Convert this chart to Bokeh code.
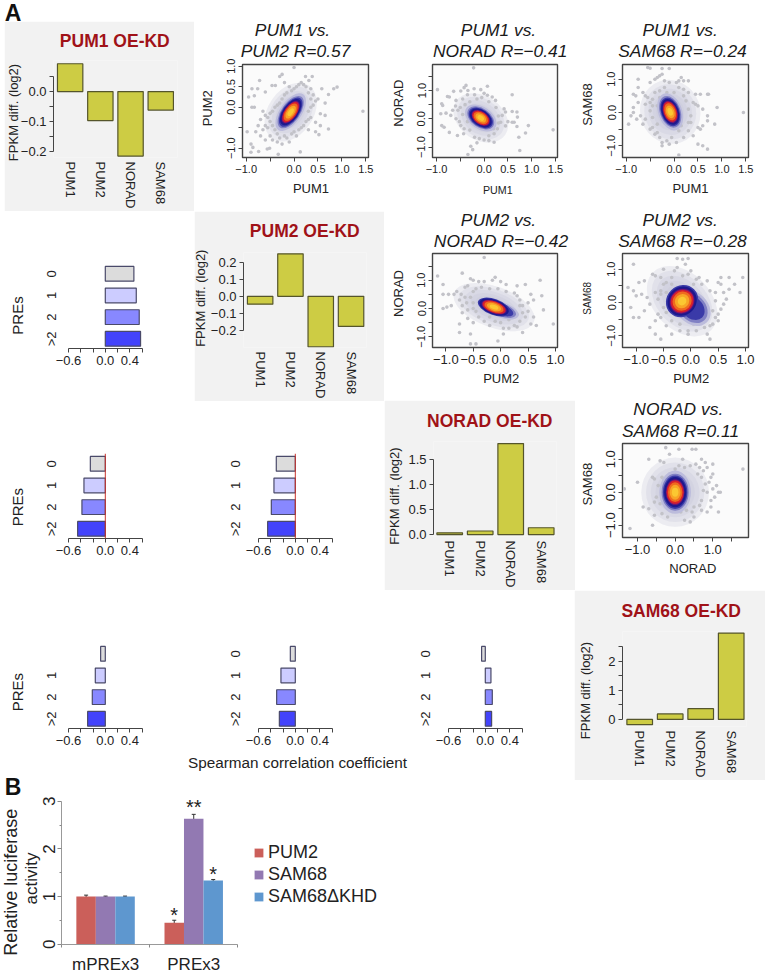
import math
from bokeh.plotting import figure
from bokeh.models import Range1d, FixedTicker, Span, Whisker, ColumnDataSource, Legend, LegendItem
from bokeh.core.properties import value
from bokeh.embed import file_html
from bokeh.resources import INLINE

FONT = "Liberation Sans"
GENES = ["PUM1", "PUM2", "NORAD", "SAM68"]
PRES = ["0", "1", "2", ">2"]

# FPKM differences
FPKM_PUM1 = [0.093, -0.097, -0.216, -0.062]
FPKM_PUM2 = [-0.046, 0.249, -0.296, -0.176]
FPKM_NORAD = [0.035, 0.07, 1.81, 0.135]
FPKM_SAM68 = [-0.18, 0.19, 0.37, 2.97]

# Spearman coefficients by PRE count
PRE_R1C0 = [0.466, 0.505, 0.553, 0.575]
PRE_R2C0 = [-0.244, -0.348, -0.381, -0.451]
PRE_R2C1 = [-0.31, -0.348, -0.391, -0.451]
PRE_R3C0 = [-0.076, -0.163, -0.212, -0.288]
PRE_R3C1 = [-0.081, -0.234, -0.304, -0.26]
PRE_R3C2 = [-0.06, 0.092, 0.114, 0.103]
PRE_COLORS = ["#dcdcdc", "#ccccff", "#8888ff", "#4343fb"]

# Luciferase
GROUPS = ["mPREx3", "PREx3"]
LUC_PUM2 = [1.0, 0.453]
LUC_SAM68 = [1.0, 2.635]
LUC_KHD = [1.0, 1.338]
ERR_PUM2 = [0.03, 0.05]
ERR_SAM68 = [0.01, 0.09]
ERR_KHD = [0.01, 0.02]
STAR_TEXT = ["*", "**", "*"]
STAR_Y = [0.75, 3.03, 1.61]

# Outlying points
S1 = [(1.44,-.1),(.9,.49),(.83,.45),(.72,.31),(.58,.45),(.38,.75),(.31,.65),(.24,.75),(0,.97),(-.25,.8),(-.3,.75),(-.72,.65),(-.88,.45),(-.76,.45),(-.95,.25),(-.83,.28),(-.6,.37),(-.46,.53),(-.39,.53),(-.88,0),(-.83,0),(-.98,-.6),(-.9,-.9),(-.86,-.98),(-.74,-1.08),(-.9,-1.1),(-.56,-1.02),(-.51,-1.0),(-.33,-1.15),(.13,-1.09),(.52,-.67),(.72,-.53),(.45,-.37),(.65,-.2),(.55,-.16),(-.5,-.35),(-.45,-.45),(-.4,-.55),(-.35,-.65),(-.55,-.5),(-.6,-.45),(-.65,-.55),(-.5,-.7),(-.45,-.8),(-.35,-.85),(-.3,-.75),(-.25,-.9),(-.2,-.7),(-.15,-.75),(-.1,-.85),(-.05,-.65),(0,-.6),(.05,-.7),(.1,-.55),(.15,-.5),(.2,-.45),(.25,-.35),(.3,-.3),(.35,-.25),(.3,-.1),(.35,0),(.4,.05),(.45,.15),(.5,.2),(.35,.2),(.4,.3),(.3,.35),(.35,.45),(.25,.5),(.2,.55),(.15,.6),(.1,.55),(.05,.5),(0,.45),(-.05,.4),(-.1,.5),(-.15,.35),(-.2,.3),(-.25,.2),(-.3,.1),(-.35,.05),(-.4,0),(-.45,-.1),(-.5,-.15),(-.55,-.25),(-.6,-.2),(-.7,-.3),(-.65,-.1),(-.75,-.45),(-.3,-.4),(-.8,-.6),(-.7,-.7),(-.6,-.8),(-.2,.6),(.65,.1),(.55,-.45),(.45,-.6),(.3,-.55)]
S2 = [(1.45,-.39),(-.22,1.8),(-.98,1.03),(-.89,.53),(-.87,.47),(-.91,.18),(-.89,-.24),(-.84,-.3),(-.73,-.48),(-.56,-.59),(-.43,-.53),(-.28,-.97),(-.24,-1.09),(-.34,-1.26),(.21,-.83),(.1,-.77),(.73,-.65),(.75,-1.12),(.87,-.5),(.93,-.24),(.59,.26),(.69,.24),(.7,.06),(.59,-.12),(.63,-.12),(.69,-.27),(.59,.85),(.07,1.15),(-.07,1.03),(-.21,1.06),(-.38,1.18),(-.42,1.1),(-.34,1.0),(-.49,.98),(-.64,.97),(-.73,.77),(-.77,.79),(-.59,.65),(-.66,.3),(-.7,.12),(-.59,0),(-.49,-.24),(-.42,-.35),(.45,.24),(.42,.35),(.38,.12),(.35,-.12),(.28,-.35),(.21,-.53),(.24,.65),(.17,.77),(.07,.83),(-.45,.7),(-.35,.85),(-.3,.6),(-.2,.85),(-.15,.7),(-.05,.75),(0,.9),(.1,.6),(-.5,.4),(-.4,.5),(-.55,.3),(-.45,.15),(-.35,-.1),(-.3,-.4),(-.2,-.65),(-.1,-.7),(0,-.75),(.1,-.6),(.2,-.35),(.3,-.15),(.3,.1),(.25,.4),(-.6,.45),(-.8,.2),(-.52,-.1),(.5,-.1),(.45,-.25),(-.15,-.85)]
S3 = [(1.45,0),(-.55,1.35),(-.5,1.33),(-.25,1.32),(-.1,1.32),(-.75,1.0),(-.5,.9),(-.4,1.0),(-.3,1.1),(-.25,1.15),(-.35,1.05),(.15,1.05),(.2,.95),(.1,.95),(.05,.9),(.3,.95),(-.2,.95),(-.1,.9),(-.75,.75),(-.65,.6),(-.6,.5),(-.55,.45),(-.85,.55),(-.8,.5),(-.5,.3),(-.45,.4),(-.4,.6),(-.3,.65),(-.2,.75),(.1,.75),(.2,.7),(.3,.6),(.45,.55),(.55,.55),(.7,.55),(.72,.55),(.4,.3),(.45,.25),(.5,.2),(.6,.1),(.9,.15),(.7,-.1),(.7,-.25),(.85,-.35),(.6,-.4),(.55,-.5),(.5,-.45),(.35,-.3),(.3,-.55),(.4,-.7),(.2,-.75),(.1,-.55),(-.05,-.75),(-.15,-.85),(-.25,-.9),(-.25,-1.0),(-.1,-.95),(.05,-.9),(.5,-.95),(.6,-1.0),(.7,-1.1),(.1,-1.28),(-.95,-.35),(-.9,-.1),(-.85,0),(-.78,-.2),(-.7,-.1),(-.6,-.2),(-.65,-.35),(-.5,-.5),(-.45,-.45),(-.4,-.65),(-.35,-.6),(-.3,-.75),(-.85,.15),(-.75,.3),(-.6,.25),(-.5,.05),(-.45,-.15),(-.35,-.35),(-.45,.2),(.3,.1),(.35,-.1),(.3,-.3),(.15,-.4),(.25,.35),(.2,.5),(0,.6),(-.15,.6),(-.3,.45),(-.35,.2)]
S4 = [(.96,-.55),(-.3,1.8),(-1.15,1.15),(-1.05,.85),(-1.05,.5),(-.95,.5),(-.85,.5),(-1.05,0),(-.98,.05),(-.9,.1),(-.8,.6),(-.7,1.25),(-.72,.5),(-.65,.4),(-.62,.2),(-.7,.1),(-.75,.3),(-.55,1.05),(-.5,1.0),(-.4,.95),(-.3,.95),(-.15,1.0),(-.1,1.1),(0,.95),(.1,.85),(.3,.8),(.45,.85),(.72,1.0),(.55,.5),(.75,.45),(.78,-.05),(.6,-.3),(.65,-.6),(.55,-.55),(.45,-.3),(.5,-.1),(.4,.1),(.35,.3),(.35,-.45),(.3,-.65),(.15,-.7),(.05,-.9),(-.05,-1.15),(.05,-.7),(-.2,-.6),(-.3,-.45),(-.4,-.3),(-.5,-.5),(-.55,-.9),(-.6,-.35),(-.7,-.15),(-.55,-1.25),(-.45,-1.25),(-.4,-1.45),(-.75,-.85),(-.75,-.55),(.25,-.6),(.4,-.85),(-.45,.7),(-.35,.75),(-.2,.7),(-.05,.7),(.1,.6),(.25,.55),(.3,.45),(-.6,.8),(-.5,.6),(-.55,.4),(-.5,.2),(-.5,0),(-.45,-.1),(-.2,-.3),(-.1,-.45),(0,-.5),(.15,-.4),(.3,-.2),(.4,-.15),(.35,.1),(-.65,.75),(-.6,-.05),(.6,.3),(.5,.2)]
S5 = [(.95,.75),(-1.05,1.15),(-.95,.6),(-1.15,.45),(-1.05,.35),(-1.0,.2),(-1.1,-.15),(-1.05,-.45),(-.95,-.45),(-.85,.65),(-.9,.25),(-.8,.15),(-.85,-.25),(-.75,-.05),(-.7,.85),(-.65,.8),(-.55,.75),(-.5,1.0),(-.45,.6),(-.35,.75),(-.25,1.05),(-.15,1.3),(-.25,1.32),(-.05,1.32),(-.1,1.15),(0,.95),(-.05,.85),(.1,.7),(.2,.55),(.3,.65),(.5,.6),(.55,.75),(.55,.55),(.7,.75),(.8,.55),(.7,.4),(.6,.3),(.65,.1),(.6,-.05),(.55,-.2),(.5,-.35),(.45,.05),(.4,-.65),(.35,-.7),(.3,-.95),(.35,-1.1),(.25,-.75),(.1,-.85),(-.05,-.85),(-.05,-.95),(-.2,-.85),(-.35,-.95),(-.45,-.7),(-.55,-1.1),(-.65,-.55),(-.6,-.35),(-.75,-.75),(-.65,-.95),(-.55,-.45),(-.5,-.15),(-.6,.1),(-.65,.3),(-.55,.35),(-.5,.55),(-.3,.95),(.05,-.65),(.25,-.55),(.3,-.35),(.4,-.25),(.45,.3),(.35,.35),(.15,.75),(-.15,.8),(-.55,.25),(-.45,.3),(-.45,-.3),(-.35,-.55),(-.2,-.65),(.5,-.55),(.45,-.45),(.9,.3),(.05,.55),(-.35,.55)]
S6 = [(1.8,.7),(-1.35,.1),(-1.0,.3),(-1.2,-1.1),(-.85,-.45),(-.7,-.5),(-.7,1.0),(-.6,.45),(-.55,.4),(-.55,-.7),(-.35,-.65),(-.4,.95),(-.3,.9),(-.3,-.1),(-.25,1.35),(-.15,1.15),(.1,1.3),(.45,1.3),(.55,1.3),(.2,1.0),(.7,1.0),(-.6,-1.0),(-.55,-.3),(-.4,-.35),(-.5,-.15),(-.45,.2),(-.35,.45),(-.2,-.75),(.4,-.9),(.5,-.75),(.25,-.85),(.95,-.45),(1.15,-.6),(.85,-.6),(.7,-.55),(.45,-.6),(1.1,.2),(1.15,.0),(1.2,.0),(1.0,.1),(.95,-.25),(1.05,-.15),(.85,.0),(1.0,.55),(.85,.75),(.75,.65),(.7,.45),(.8,.25),(.65,.75),(.55,.85),(.4,.8),(.25,.75),(.1,.8),(0,.7),(-.15,.55),(-.3,.35),(.6,.55),(.75,.05),(.7,-.25),(.65,-.4),(.5,-.45),(.3,-.55),(.15,-.6),(0,-.55),(-.15,-.5),(-.25,-.35),(-.35,-.2),(-.3,.1),(-.35,.1),(.95,.45),(.9,.3),(-.2,-1.5),(.8,.9),(1.0,.85)]

# Density cloud per scatter: centre, haze size, core size, screen angle
CLOUD_X = [-0.07, -0.07, -0.08, -0.12, -0.16, 0.0]
CLOUD_Y = [-0.12, 0.03, 0.02, 0.05, 0.04, 0.0]
HAZE_W = [1.35, 1.25, 1.35, 1.55, 1.5, 1.8]
HAZE_H = [1.1, 1.55, 1.8, 1.45, 1.7, 2.1]
CORE_W = [0.52, 0.42, 0.46, 0.46, 0.42, 0.48]
CORE_H = [0.3, 0.45, 0.41, 0.42, 0.75, 0.75]
CORE_A = [55, -35, -70, -20, -45, 0]
# secondary dense lobes of the second-row clouds: panel, centre, size
LOBE_I = [3, 4]
LOBE_X = [0.03, 0.03]
LOBE_Y = [-0.06, -0.16]
LOBE_W = [0.42, 0.5]
LOBE_H = [0.36, 0.62]
HAZE_SCALE = [1.0, 0.86, 0.72, 0.58, 0.46]
LAYER_SCALE = [1.75, 1.5, 1.35, 1.22, 1.1, 1.02, 0.94, 0.8, 0.6, 0.36]
LAYER_COLOR = ["#bcbcdc", "#8080c4", "#3a3aa8", "#1a1a8e", "#2d1488", "#7d1570", "#d8202c", "#ef6a1f", "#f8a526", "#fbc832"]

AXC = "#444444"
TXT = "#222222"
figs = []

def rng(a, b, c1, c2):
    k = (c2[0] - c1[0]) / (c2[1] - c1[1])
    return Range1d(c1[0] + (a - c1[1]) * k, c1[0] + (b - c1[1]) * k)

def make(box, frame, xc, yc, bg=None):
    l, t, w, h = box
    fl, ft, fr, fb = frame
    p = figure(width=w, height=h, x_range=rng(fl, fr, *xc), y_range=rng(fb, ft, *yc),
               toolbar_location=None, output_backend="svg",
               min_border_left=fl - l, min_border_right=l + w - fr,
               min_border_top=ft - t, min_border_bottom=t + h - fb,
               styles={"position": "absolute", "left": f"{l}px", "top": f"{t}px"})
    p.grid.visible = False
    p.outline_line_color = None
    p.border_fill_color = bg or "white"
    p.background_fill_color = bg or "white"
    if bg is None:
        p.border_fill_alpha = 0
        p.background_fill_alpha = 0
    for ax in (p.xaxis[0], p.yaxis[0]):
        ax.axis_line_color = AXC
        ax.major_tick_line_color = AXC
        ax.major_tick_out = 4
        ax.major_tick_in = 0
        ax.minor_tick_line_color = None
        ax.major_label_text_font = FONT
        ax.major_label_text_color = TXT
        ax.major_label_text_font_size = "13px"
        ax.major_label_standoff = 3
    figs.append(p)
    return p

def ticks(ax, vals, labels):
    ax.ticker = FixedTicker(ticks=vals)
    ax.major_label_overrides = {v: s for v, s in zip(vals, labels)}

def fpkm(box, frame, xc, yc, vals, yt, yl, bounds):
    p = make(box, frame, xc, yc, "#f2f2f2")
    p.vbar(x=[0, 1, 2, 3], top=vals, bottom=0, width=0.84, fill_color="#cdcc44", line_color="#55552b", line_width=1.2)
    ticks(p.xaxis[0], [0, 1, 2, 3], GENES)
    a = p.xaxis[0]
    a.axis_line_color = None
    a.major_tick_line_color = None
    a.major_label_orientation = "vertical"
    a.major_tick_out = 0
    a.major_label_standoff = 4
    ticks(p.yaxis[0], yt, yl)
    p.yaxis[0].bounds = bounds
    return p

def pre(x0, row, vals, red=False, ylabels=PRES, standoff=3):
    axis_y = 348 + row
    fr = (x0, 263 + row, x0 + 74, axis_y)
    p = make((x0 - 40, 250 + row, 125, 125), fr, ((-0.6, x0), (0.6, x0 + 73.6)),
             ((0, 273.3 + row), (3, 338.3 + row)))
    p.hbar(y=[0, 1, 2, 3], right=vals, left=0, height=0.68, fill_color=PRE_COLORS, line_color="#4a4a6a", line_width=1.2)
    if red:
        p.add_layout(Span(location=0, dimension="height", line_color="#c8322c", line_width=1))
    ticks(p.xaxis[0], [-0.6, -0.4, -0.2, 0, 0.2, 0.4, 0.6], ["−0.6", "", "", "0.0", "", "0.4", ""])
    ticks(p.yaxis[0], [0, 1, 2, 3], ylabels)
    y = p.yaxis[0]
    y.axis_line_color = None
    y.major_tick_line_color = None
    y.major_tick_out = 0
    y.major_label_orientation = "vertical"
    y.major_label_standoff = standoff
    return p

def scatter(i, pts, box, frame, xc, yc, xt, xl, yt, yl, xsize="11px", ysize="11px"):
    p = make(box, frame, xc, yc, None)
    p.background_fill_color = "#fbfbfb"
    p.background_fill_alpha = 1
    p.outline_line_color = AXC
    p.outline_line_width = 1.4
    cx, cy = CLOUD_X[i], CLOUD_Y[i]
    ang = math.radians(CORE_A[i])
    for s in HAZE_SCALE:
        p.ellipse(x=[cx], y=[cy], width=HAZE_W[i] * s, height=HAZE_H[i] * s, angle=ang,
                  fill_color="#c4c4d6", fill_alpha=0.28, line_color=None)
    p.scatter([q[0] for q in pts], [q[1] for q in pts], size=3.6, color="#c2c2c8", line_color=None)
    if i in LOBE_I:
        j = LOBE_I.index(i)
        for s, c in [(1.5, "#bcbcdc"), (1.25, "#8080c4"), (1.0, "#3a3aa8")]:
            p.ellipse(x=[LOBE_X[j]], y=[LOBE_Y[j]], width=LOBE_W[j] * s, height=LOBE_H[j] * s, angle=ang,
                      fill_color=c, line_color=None)
    for s, c in zip(LAYER_SCALE, LAYER_COLOR):
        if s > 1.4 and i in LOBE_I:
            continue
        p.ellipse(x=[cx], y=[cy], width=CORE_W[i] * s, height=CORE_H[i] * s, angle=ang,
                  fill_color=c, line_color=None)
    ticks(p.xaxis[0], xt, xl)
    ticks(p.yaxis[0], yt, yl)
    p.xaxis[0].major_label_text_font_size = xsize
    p.yaxis[0].major_label_text_font_size = ysize
    p.yaxis[0].major_label_orientation = "vertical"
    return p

fpkm((4, 21, 190, 190), (53, 60, 177, 159), ((0, 69.65), (1, 99.85)), ((0, 91.7), (-0.2, 152.7)), FPKM_PUM1,
     [0.05, 0, -0.05, -0.1, -0.15, -0.2], ["", "0.0", "", "−0.1", "", "−0.2"], (-0.2, 0.05))
fpkm((194, 211, 190, 190), (243, 252, 366, 348), ((0, 259.65), (1, 289.95)), ((0, 296.3), (-0.2, 330.8)), FPKM_PUM2,
     [0.2, 0.1, 0, -0.1, -0.2], ["0.2", "0.1", "0.0", "−0.1", "−0.2"], (-0.2, 0.2))
fpkm((384, 400, 191, 190), (433, 441, 556, 538), ((0, 449.2), (1, 479.7)), ((0, 536), (1.5, 459)), FPKM_NORAD,
     [0, 0.5, 1, 1.5], ["0.0", "0.5", "1.0", "1.5"], (0, 1.5))
fpkm((574, 590, 191, 190), (622, 631, 746, 729), ((0, 639.2), (1, 669.7)), ((0, 721.7), (2, 661.7)), FPKM_SAM68,
     [0, 0.5, 1, 1.5, 2, 2.5], ["0", "", "1", "", "2", ""], (0, 2.5))

pre(68, 0, PRE_R1C0, standoff=9)
pre(68, 190, PRE_R2C0, red=True, standoff=9)
pre(258, 190, PRE_R2C1, red=True, standoff=15)
pre(68, 380, PRE_R3C0, ylabels=["", "1", "2", ">2"], standoff=9)
pre(258, 380, PRE_R3C1, standoff=15)
pre(448, 380, PRE_R3C2, standoff=15)

XT1 = [-1, -0.5, 0, 0.5, 1, 1.5]
XL1 = ["−1.0", "", "0.0", "0.5", "1.0", "1.5"]
XT2 = [-1, -0.5, 0, 0.5, 1]
XL2 = ["−1.0", "−0.5", "0.0", "0.5", "1.0"]
YT = [-1, -0.5, 0, 0.5, 1]
YT15 = [-1, -0.5, 0, 0.5, 1, 1.5]
YL3 = ["−1.0", "", "0.0", "", "1.0"]
YL315 = ["−1.0", "", "0.0", "", "1.0", ""]
scatter(0, S1, (200, 50, 180, 140), (242, 64, 368, 157), ((-1, 245.7), (1.5, 365.3)), ((0, 106.7), (1, 65.7)),
        XT1, XL1, YT, ["−1.0", "", "0.0", "0.5", "1.0"])
scatter(1, S2, (400, 50, 170, 140), (432, 64, 557, 157), ((-1, 436), (1.5, 555)), ((0, 118.3), (1, 90)),
        XT1, XL1, YT15, YL315)
scatter(2, S3, (590, 50, 170, 140), (622, 64, 748, 157), ((-1, 625.7), (1.5, 745.3)), ((0, 112), (1, 78.7)),
        XT1, XL1, YT, YL3)
scatter(3, S4, (400, 245, 170, 135), (432, 253, 557, 347), ((-1, 445.3), (1, 555)), ((0, 308), (1, 279.7)),
        XT2, XL2, YT15, YL315, xsize="13px")
scatter(4, S5, (590, 245, 170, 135), (622, 253, 748, 347), ((-1, 635.7), (1, 745)), ((0, 302), (1, 268.7)),
        XT2, XL2, YT, YL3, xsize="13px")
scatter(5, S6, (590, 435, 170, 130), (622, 443, 748, 537), ((-1, 637), (1, 712.3)), ((0, 491.7), (1, 458.7)),
        [-1, -0.5, 0, 0.5, 1, 1.5], ["−1.0", "", "0.0", "", "1.0", ""], YT, YL3, xsize="13px", ysize="13px")

b = make((0, 780, 400, 196), (61, 790, 395, 952), ((-0.5, 61), (1.5, 237.3)), ((0, 951.7), (3, 801.3)))
W = 0.221
c1, c2, c3 = "#cb5f5a", "#9279b2", "#5e97cf"
items = []
for off, vals, errs, col, name in [(-W, LUC_PUM2, ERR_PUM2, c1, "PUM2"), (0, LUC_SAM68, ERR_SAM68, c2, "SAM68"), (W, LUC_KHD, ERR_KHD, c3, "SAM68ΔKHD")]:
    xs = [i + off for i in range(len(GROUPS))]
    r = b.vbar(x=xs, top=vals, bottom=0, width=W, fill_color=col, line_color=None)
    items.append(LegendItem(label=name, renderers=[r]))
    s = ColumnDataSource(dict(x=xs, up=[v + e for v, e in zip(vals, errs)], lo=[v - e for v, e in zip(vals, errs)]))
    w = Whisker(source=s, base="x", upper="up", lower="lo", line_color="#333333", line_width=1)
    w.upper_head.size = 4
    w.lower_head.size = 4
    w.upper_head.line_color = "#333333"
    w.lower_head.line_color = "#333333"
    b.add_layout(w)
b.text(x=[1 - W, 1, 1 + W], y=STAR_Y, text=STAR_TEXT, text_font=value(FONT), text_font_size="20px",
       text_align="center", text_baseline="middle", text_color="#222222", y_offset=7)
bx = b.xaxis[0]
bx.ticker = FixedTicker(ticks=[0, 1], minor_ticks=[-0.5, 0.5, 1.5])
bx.major_label_overrides = {0: GROUPS[0], 1: GROUPS[1]}
bx.bounds = (-0.5, 1.5)
bx.major_tick_line_color = None
bx.minor_tick_line_color = "#888888"
bx.minor_tick_out = 3
bx.minor_tick_in = 0
bx.axis_line_color = "#999999"
bx.major_label_text_font_size = "17px"
bx.major_label_standoff = 6
by = b.yaxis[0]
by.ticker = FixedTicker(ticks=[0, 1, 2, 3], minor_ticks=[0.5, 1.5, 2.5])
by.major_label_overrides = {0: "0", 1: "1", 2: "2", 3: "3"}
by.bounds = (0, 3)
by.axis_line_color = "#999999"
by.major_tick_line_color = "#888888"
by.minor_tick_line_color = "#888888"
by.minor_tick_out = 2
by.minor_tick_in = 0
by.major_label_orientation = "vertical"
by.major_label_text_font_size = "17px"
by.major_label_standoff = 2
leg = Legend(items=items, location=(192, 37), orientation="vertical", glyph_width=11, glyph_height=11,
             label_standoff=4, spacing=1, padding=0, margin=0, border_line_color=None, background_fill_alpha=0,
             label_text_font=FONT, label_text_font_size="18px", label_text_color="#222222", label_height=11)
b.add_layout(leg, "center")

ov = figure(width=766, height=976, x_range=Range1d(0, 766), y_range=Range1d(976, 0), toolbar_location=None,
            output_backend="svg", min_border=0, styles={"position": "absolute", "left": "0px", "top": "0px"})
ov.axis.visible = False
ov.grid.visible = False
ov.outline_line_color = None
ov.border_fill_alpha = 0
ov.background_fill_alpha = 0
figs.append(ov)

def tx(x, y, s, size=13, style="normal", color=TXT, rot=False):
    ov.text(x=[x], y=[y], text=[s], text_font=value(FONT), text_font_size=f"{size}px", text_font_style=style,
            text_color=color, text_align="center", text_baseline="middle", angle=math.pi / 2 if rot else 0)

RED = "#a01218"
tx(12.5, 12.5, "A", 23, "bold", "#111111")
tx(12.5, 786, "B", 23, "bold", "#111111")
tx(114.3, 40.7, "PUM1 OE-KD", 17.5, "bold", RED)
tx(304.3, 230, "PUM2 OE-KD", 17.5, "bold", RED)
tx(489.3, 420, "NORAD OE-KD", 17.5, "bold", RED)
tx(680.7, 610, "SAM68 OE-KD", 17.5, "bold", RED)
for x, y in [(12.7, 112), (200, 297.7), (394, 495.5), (585, 690)]:
    tx(x, y, "FPKM diff. (log2)", 13, rot=True)
for y in [315, 506.7, 691.7]:
    tx(17, y, "PREs", 15, rot=True)
tx(297, 762, "Spearman correlation coefficient", 15.3)
for x, y, a in [(292, 29, "PUM1 vs."), (295, 50, "PUM2 R=0.57"), (498, 29, "PUM1 vs."),
                (499.7, 50, "NORAD R=−0.41"), (679.7, 29, "PUM1 vs."), (682, 50, "SAM68 R=−0.24"),
                (498, 219.3, "PUM2 vs."), (500.5, 240, "NORAD R=−0.42"), (679.7, 219.3, "PUM2 vs."),
                (682, 240, "SAM68 R=−0.28"), (677.8, 408.3, "NORAD vs."), (680, 430, "SAM68 R=0.11")]:
    tx(x, y, a, 17.4, "italic", "#1a1a1a")
for x, y, s, z in [(310.5, 188, "PUM1", 13), (497.3, 189, "PUM1", 10.7), (690, 188, "PUM1", 13), (500.7, 378.3, "PUM2", 13),
                   (690.7, 378.3, "PUM2", 13), (692.3, 567.7, "NORAD", 13)]:
    tx(x, y, s, z)
for x, y, s, z in [(207.3, 107.8, "PUM2", 13), (398.3, 102.7, "NORAD", 13), (587.3, 104, "SAM68", 13), (398.3, 293, "NORAD", 13),
                   (587.3, 297.8, "SAM68", 10), (587.3, 483.7, "SAM68", 13)]:
    tx(x, y, s, z, rot=True)
tx(10, 881.7, "Relative luciferase", 18, rot=True)
tx(31, 878, "activity", 17, rot=True)

open("out.html", "w").write(file_html(figs, INLINE))
